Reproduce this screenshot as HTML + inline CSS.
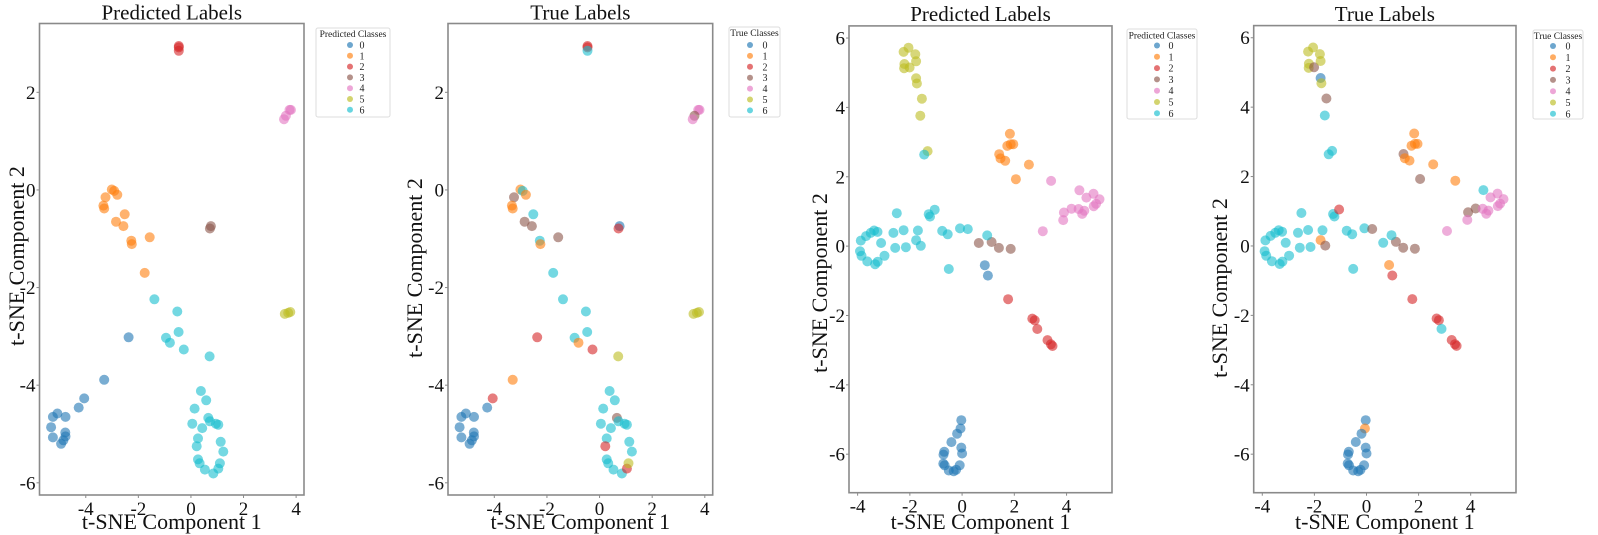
<!DOCTYPE html>
<html><head><meta charset="utf-8"><style>
html,body{margin:0;padding:0;background:#fff;}
svg{display:block;}
svg text{font-family:"Liberation Serif","Times New Roman",serif;}
</style></head><body>
<svg id="fig" width="1598" height="535" viewBox="0 0 1598 535" xmlns="http://www.w3.org/2000/svg" font-family="Liberation Serif, serif"></svg>
<script>
// ---------- Dataset A (panels 1 & 2) ----------
const aX = [-0.46,-0.46,-0.46, 3.8,3.75,3.61,3.54,
 -3.01,-2.92,-2.8,-3.25,-3.33,-3.3,-2.52,-2.85,-2.57,-2.27,-2.25,-1.57,-1.76,
 0.76,0.72, 3.57,3.7,3.78,
 -1.39,-0.52,-0.47,-0.95,-0.8,-0.27,0.71,
 0.38,0.58,0.14,0.66,0.72,0.05,0.43,0.95,1.04,0.27,0.22,1.13,1.23,0.27,0.33,0.53,0.85,1.04,1.1,
 -2.37,-3.3,-4.06,-4.27,-5.08,-5.25,-4.77,-5.32,-5.25,-4.78,-4.77,-4.85,-4.94];
const aY = [2.95,2.92,2.85, 1.64,1.64,1.52,1.45,
 0.01,-0.02,-0.1,-0.15,-0.32,-0.38,-0.5,-0.65,-0.74,-1.04,-1.11,-0.97,-1.7,
 -0.74,-0.79, -2.54,-2.52,-2.5,
 -2.24,-2.49,-2.91,-3.03,-3.13,-3.27,-3.41,
 -4.12,-4.31,-4.48,-4.67,-4.74,-4.79,-4.88,-4.79,-4.81,-5.09,-5.25,-5.16,-5.36,-5.52,-5.6,-5.73,-5.81,-5.71,-5.6,
 -3.02,-3.89,-4.27,-4.46,-4.58,-4.65,-4.65,-4.86,-5.07,-4.97,-5.05,-5.13,-5.2];
const aPred = [2,2,2, 4,4,4,4,
 1,1,1,1,1,1,1,1,1,1,1,1,1,
 3,3, 5,5,5,
 6,6,6,6,6,6,6,
 6,6,6,6,6,6,6,6,6,6,6,6,6,6,6,6,6,6,6,
 0,0,0,0,0,0,0,0,0,0,0,0,0];
const aTrue = [2,2,6, 4,4,3,4,
 1,6,1,3,1,1,6,3,3,6,1,3,6,
 0,2, 5,5,5,
 6,6,6,6,1,2,5,
 6,6,6,3,6,6,6,6,6,6,2,6,6,6,6,6,6,2,5,
 2,1,2,0,0,0,0,0,0,0,0,0,0];
// ---------- Dataset B (panels 3 & 4) ----------
const bX = [-2.24,-2.05,-2.21,-2.22,-2.01,-1.79,-1.76,-1.76,-1.73,-1.54,-1.6,-1.32,-1.45,
 1.83,1.73,1.86,1.96,1.42,1.47,1.65,2.56,2.06,
 3.41,4.49,5.03,4.76,5.26,5.13,5.04,4.19,4.46,4.68,4.6,3.9,3.87,3.09,
 0.64,1.13,1.41,1.86, 0.87,0.99,
 1.76,2.69,2.78,2.88,3.27,3.4,3.46,
 -0.03,-0.06,-0.19,-0.41,-0.03,0,-0.68,-0.71,-0.72,-0.67,-0.09,-0.51,-0.32,-0.23,
 -3.88,-3.68,-3.5,-3.37,-3.24,-3.91,-3.85,-3.63,-3.33,-3.23,-2.97,-3.1,-2.5,-2.63,-2.24,-2.56,-2.15,-1.69,-1.76,-1.58,-1.28,-1.23,-1.05,-0.76,-0.55,-0.51,-0.08,0.22,0.96];
const bY = [5.6,5.72,5.25,5.13,5.15,5.53,5.33,4.84,4.69,4.25,3.76,2.74,2.64,
 3.24,2.89,2.94,2.94,2.65,2.53,2.46,2.35,1.93,
 1.88,1.61,1.51,1.4,1.35,1.22,1.15,1.08,1.07,1.02,0.93,0.97,0.75,0.43,
 0.09,0.12,-0.05,-0.08, -0.55,-0.85,
 -1.53,-2.09,-2.14,-2.39,-2.71,-2.83,-2.88,
 -5.02,-5.26,-5.41,-5.65,-5.81,-5.98,-5.93,-6.01,-6.27,-6.32,-6.32,-6.47,-6.49,-6.45,
 0.16,0.29,0.38,0.45,0.41,-0.15,-0.28,-0.44,-0.52,-0.45,-0.28,0.09,0.95,0.38,0.46,-0.05,-0.03,0.45,0.17,0.01,0.92,0.85,1.05,0.44,0.34,-0.66,0.51,0.49,0.31];
const bPred = [5,5,5,5,5,5,5,5,5,5,5,5,6,
 1,1,1,1,1,1,1,1,1,
 4,4,4,4,4,4,4,4,4,4,4,4,4,4,
 3,3,3,3, 0,0,
 2,2,2,2,2,2,2,
 0,0,0,0,0,0,0,0,0,0,0,0,0,0,
 6,6,6,6,6,6,6,6,6,6,6,6,6,6,6,6,6,6,6,6,6,6,6,6,6,6,6,6,6];
const bTrue = [5,5,5,5,3,5,5,0,5,3,6,6,6,
 1,1,1,1,3,1,1,1,3,
 1,6,4,4,4,4,4,3,4,4,4,3,4,4,
 6,3,3,3, 1,2,
 2,2,2,6,2,2,2,
 0,1,0,0,0,0,0,0,0,0,0,0,0,0,
 6,6,6,6,6,6,6,6,6,6,6,6,6,6,6,6,6,6,1,3,6,6,2,6,6,6,6,3,6];
// ---------- Axes ticks / labels ----------
const ticksA_x = [-4,-2,0,2,4];
const ticksA_y = [-6,-4,-2,0,2];
const ticksB_x = [-4,-2,0,2,4];
const ticksB_y = [-6,-4,-2,0,2,4,6];
const classLabels = ['0','1','2','3','4','5','6'];
const palette = ['#1f77b4','#ff7f0e','#d62728','#8c564b','#e377c2','#bcbd22','#17becf'];

const NS='http://www.w3.org/2000/svg';
const FONT='Liberation Serif, Times New Roman, serif';
const svg=document.getElementById('fig');
function mk(tag,attrs,parent){const e=document.createElementNS(NS,tag);for(const k in attrs)e.setAttribute(k,attrs[k]);if(tag==='text')e.setAttribute('font-family',FONT);(parent||svg).appendChild(e);return e;}

const panels=[
 {id:'p1',title:'Predicted Labels',legendTitle:'Predicted Classes',L:39.5,R:304,T:23.5,B:495,xmin:-5.76,xmax:4.3,ymin:-6.25,ymax:3.41,xs:aX,ys:aY,cls:aPred,tx:ticksA_x,ty:ticksA_y,titleY:19.5,ylabX:17,ylabY:256,
  lg:{x:316,y:28,w:74,h:89,mx:350,lx:362,ey:45,step:10.8,ty:37}},
 {id:'p2',title:'True Labels',legendTitle:'True Classes',L:448,R:712.7,T:23.5,B:495,xmin:-5.76,xmax:4.3,ymin:-6.25,ymax:3.41,xs:aX,ys:aY,cls:aTrue,tx:ticksA_x,ty:ticksA_y,titleY:19.5,ylabX:415,ylabY:268,
  lg:{x:729,y:27,w:51,h:90,mx:750,lx:765,ey:45,step:10.9,ty:36}},
 {id:'p3',title:'Predicted Labels',legendTitle:'Predicted Classes',L:849,R:1112,T:25.9,B:492.7,xmin:-4.33,xmax:5.74,ymin:-7.11,ymax:6.35,xs:bX,ys:bY,cls:bPred,tx:ticksB_x,ty:ticksB_y,titleY:21,ylabX:820,ylabY:283,
  lg:{x:1127,y:29,w:70,h:90,mx:1157,lx:1171,ey:45.5,step:11.3,ty:38.5}},
 {id:'p4',title:'True Labels',legendTitle:'True Classes',L:1253.7,R:1516,T:25.6,B:492.7,xmin:-4.33,xmax:5.74,ymin:-7.11,ymax:6.35,xs:bX,ys:bY,cls:bTrue,tx:ticksB_x,ty:ticksB_y,titleY:21,ylabX:1220,ylabY:288,
  lg:{x:1533,y:30,w:50,h:89,mx:1553,lx:1568,ey:46,step:11.3,ty:39}}
];

panels.forEach(p=>{
 const g=mk('g',{});
 
 
 const sx=v=>p.L+(v-p.xmin)/(p.xmax-p.xmin)*(p.R-p.L);
 const sy=v=>p.B-(v-p.ymin)/(p.ymax-p.ymin)*(p.B-p.T);
 const t=mk('text',{x:(p.L+p.R)/2,y:p.titleY,'text-anchor':'middle','font-size':21,fill:'#111'},g);
 t.textContent=p.title;
 
 
 const pg=mk('g',{},g);
 
 
 for(let i=0;i<p.xs.length;i++){
  const c=mk('circle',{cx:sx(p.xs[i]).toFixed(1),cy:sy(p.ys[i]).toFixed(1),r:5,fill:palette[p.cls[i]],'fill-opacity':0.6},pg);
  
  
 }
 const fr=mk('rect',{x:p.L,y:p.T,width:p.R-p.L,height:p.B-p.T,fill:'none',stroke:'#8a8a8a','stroke-width':1.6},g);
 
 
 p.tx.forEach(v=>{
  const x=sx(v);
  mk('line',{x1:x,x2:x,y1:p.B,y2:p.B+3,stroke:'#8a8a8a','stroke-width':1},g);
  const l=mk('text',{x:x,y:p.B+20,'text-anchor':'middle','font-size':19,fill:'#111'},g);
  l.textContent=String(v);
  
  
 });
 p.ty.forEach(v=>{
  const y=sy(v);
  mk('line',{x1:p.L-3,x2:p.L,y1:y,y2:y,stroke:'#8a8a8a','stroke-width':1},g);
  const l=mk('text',{x:p.L-4,y:y+6.5,'text-anchor':'end','font-size':19,fill:'#111'},g);
  l.textContent=String(v);
  
  
 });
 const xl=mk('text',{x:(p.L+p.R)/2,y:529,'text-anchor':'middle','font-size':22,fill:'#111'},g);
 xl.textContent='t-SNE Component 1';
 
 
 const yl=mk('text',{x:0,y:0,'text-anchor':'middle','font-size':22,fill:'#111',transform:`translate(${p.ylabX+7},${p.ylabY}) rotate(-90)`},g);
 yl.textContent='t-SNE Component 2';
 
 
 const lg=p.lg;
 const leg=mk('g',{},g);
 
 
 mk('rect',{x:lg.x,y:lg.y,width:lg.w,height:lg.h,rx:2,fill:'#fff',stroke:'#dcdcdc','stroke-width':1},leg);
 const lt=mk('text',{x:lg.x+lg.w/2,y:lg.ty,'text-anchor':'middle','font-size':9.5,fill:'#222'},leg);
 lt.textContent=p.legendTitle;
 
 
 classLabels.forEach((c,k)=>{
  const y=lg.ey+k*lg.step;
  const m=mk('circle',{cx:lg.mx,cy:y,r:3,fill:palette[k],'fill-opacity':0.65},leg);
  
  
  const tx=mk('text',{x:lg.lx,y:y+3.5,'text-anchor':'middle','font-size':10,fill:'#222'},leg);
  tx.textContent=c;
  
  
 });
});
</script>
</body></html>
